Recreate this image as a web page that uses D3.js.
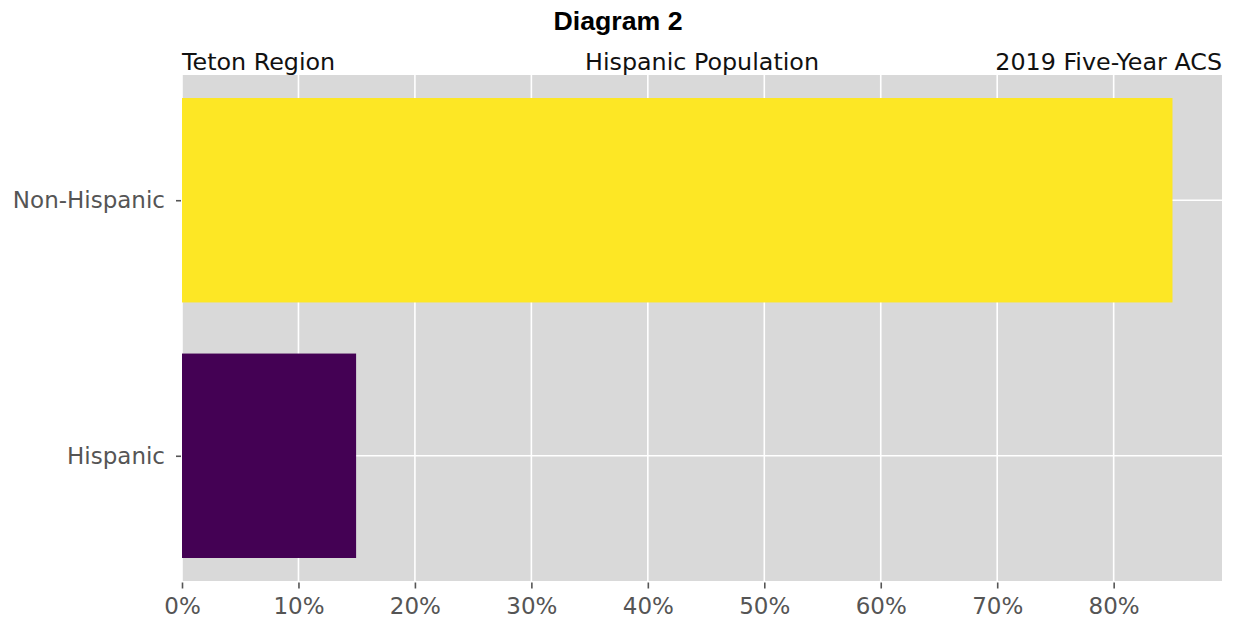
<!DOCTYPE html>
<html>
<head>
<meta charset="utf-8">
<script src="https://cdn.jsdelivr.net/npm/d3@7"></script>
<style>
  html, body { margin: 0; padding: 0; background: #fff; }
  svg { display: block; }
</style>
</head>
<body>
<svg id="chart" width="1237" height="623"></svg>
<script>
// Data
const categories = ["Hispanic", "Non-Hispanic"];
const shares = [14.95, 85.05];
const barColors = ["#440154", "#fde725"];
const xTicks = [0, 10, 20, 30, 40, 50, 60, 70, 80];
const chartTitle = "Diagram 2";
const leftTitle = "Teton Region";
const centerTitle = "Hispanic Population";
const rightTitle = "2019 Five-Year ACS";

const svg = d3.select("#chart");
const L = 182, R = 1222, T = 75, B = 581;

const xMax = d3.max(shares) * 1.05;
const x = d3.scaleLinear().domain([0, xMax]).range([L, R]);
const y = d3.scaleLinear().domain([-0.49, 1.49]).range([B, T]);
const barH = 0.8;

// background
svg.append("rect").attr("x", L).attr("y", T).attr("width", R - L).attr("height", B - T).attr("fill", "#d9d9d9");

// grid
svg.append("g").selectAll("line").data(xTicks).join("line")
  .attr("x1", d => x(d)).attr("x2", d => x(d)).attr("y1", T).attr("y2", B)
  .attr("stroke", "#fff").attr("stroke-width", 1.6);
svg.append("g").selectAll("line").data(categories).join("line")
  .attr("x1", L).attr("x2", R).attr("y1", (d, i) => y(i)).attr("y2", (d, i) => y(i))
  .attr("stroke", "#fff").attr("stroke-width", 1.6);

// bars
svg.append("g").selectAll("rect").data(categories).join("rect")
  .attr("x", x(0))
  .attr("y", (d, i) => y(i + barH / 2))
  .attr("width", (d, i) => x(shares[i]) - x(0))
  .attr("height", (d, i) => y(i - barH / 2) - y(i + barH / 2))
  .attr("fill", (d, i) => barColors[i]);

// x axis
const xAxis = d3.axisBottom(x).tickValues(xTicks).tickFormat(d => d + "%").tickSize(6).tickPadding(9);
const gx = svg.append("g").attr("transform", `translate(0,${B + 1.5})`).call(xAxis);
gx.select(".domain").remove();
gx.selectAll(".tick line").attr("stroke", "#555").attr("stroke-width", 1.6);
gx.selectAll(".tick text").attr("fill", "#555").attr("font-family", "DejaVu Sans").attr("font-size", 23);

// y axis
const yAxis = d3.axisLeft(y).tickValues([0, 1]).tickFormat(i => categories[i]).tickSize(5).tickPadding(11);
const gy = svg.append("g").attr("transform", `translate(${L - 1},0)`).call(yAxis);
gy.select(".domain").remove();
gy.selectAll(".tick line").attr("stroke", "#555").attr("stroke-width", 1.6);
gy.selectAll(".tick text").attr("fill", "#555").attr("font-family", "DejaVu Sans").attr("font-size", 23);

// titles
svg.append("text").attr("x", 618).attr("y", 29.5).attr("text-anchor", "middle")
  .attr("font-family", "Liberation Sans, Arial, sans-serif").attr("font-weight", "bold").attr("font-size", 26.7)
  .attr("fill", "#000").text(chartTitle);
const sub = [
  { t: leftTitle, x: L, a: "start" },
  { t: centerTitle, x: (L + R) / 2, a: "middle" },
  { t: rightTitle, x: R, a: "end" }
];
svg.append("g").selectAll("text").data(sub).join("text")
  .attr("x", d => d.x).attr("y", 69.5).attr("text-anchor", d => d.a)
  .attr("font-family", "DejaVu Sans").attr("font-size", 23.8).attr("fill", "#111")
  .text(d => d.t);
</script>
</body>
</html>
